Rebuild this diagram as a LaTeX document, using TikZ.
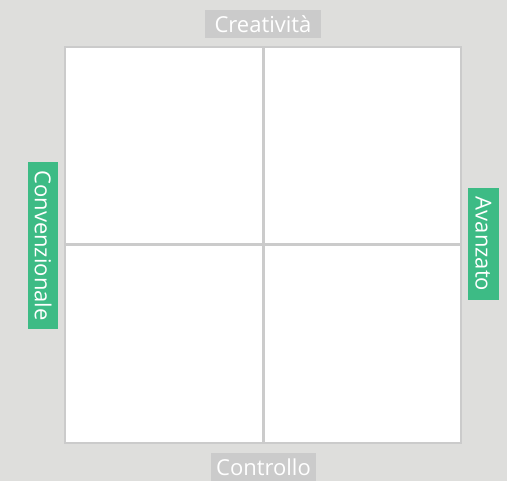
\documentclass[tikz,border=0pt]{standalone}
\usepackage{fontspec}
\setmainfont{Open Sans}
\definecolor{bg}{HTML}{DEDEDC}
\definecolor{graybox}{HTML}{CBCBCB}
\definecolor{greenbox}{HTML}{3DBB85}
\definecolor{gridline}{HTML}{CBCBCB}
\begin{document}
\begin{tikzpicture}[x=1pt,y=-1pt,
  lab/.style={text=white,font=\fontsize{22}{26}\selectfont,inner sep=0pt,anchor=center}]
\fill[bg] (0,0) rectangle (507,481);
\useasboundingbox (0,0) rectangle (507,481);
\draw[gridline,line width=1.5pt,fill=white] (65,47) rectangle (461,443);
\coordinate (t) at (263,47);
\coordinate (b) at (263,443);
\coordinate (l) at (65,245);
\coordinate (r) at (461,245);
\draw[gridline,line width=3pt] (t) -- (b);
\draw[gridline,line width=3pt] (l) -- (r);
\fill[graybox] (205,10) rectangle (321,38);
\node[lab] (creat) at (263,24) {Creatività};
\fill[graybox] (211,453) rectangle (316,481);
\node[lab] (contr) at (263.5,467) {Controllo};
\fill[greenbox] (28,162) rectangle (58,329);
\node[lab,rotate=-90] (conv) at (43,245.5) {Convenzionale};
\fill[greenbox] (468,188) rectangle (499,300);
\node[lab,rotate=-90] (avan) at (483.5,244) {Avanzato};
\end{tikzpicture}
\end{document}
